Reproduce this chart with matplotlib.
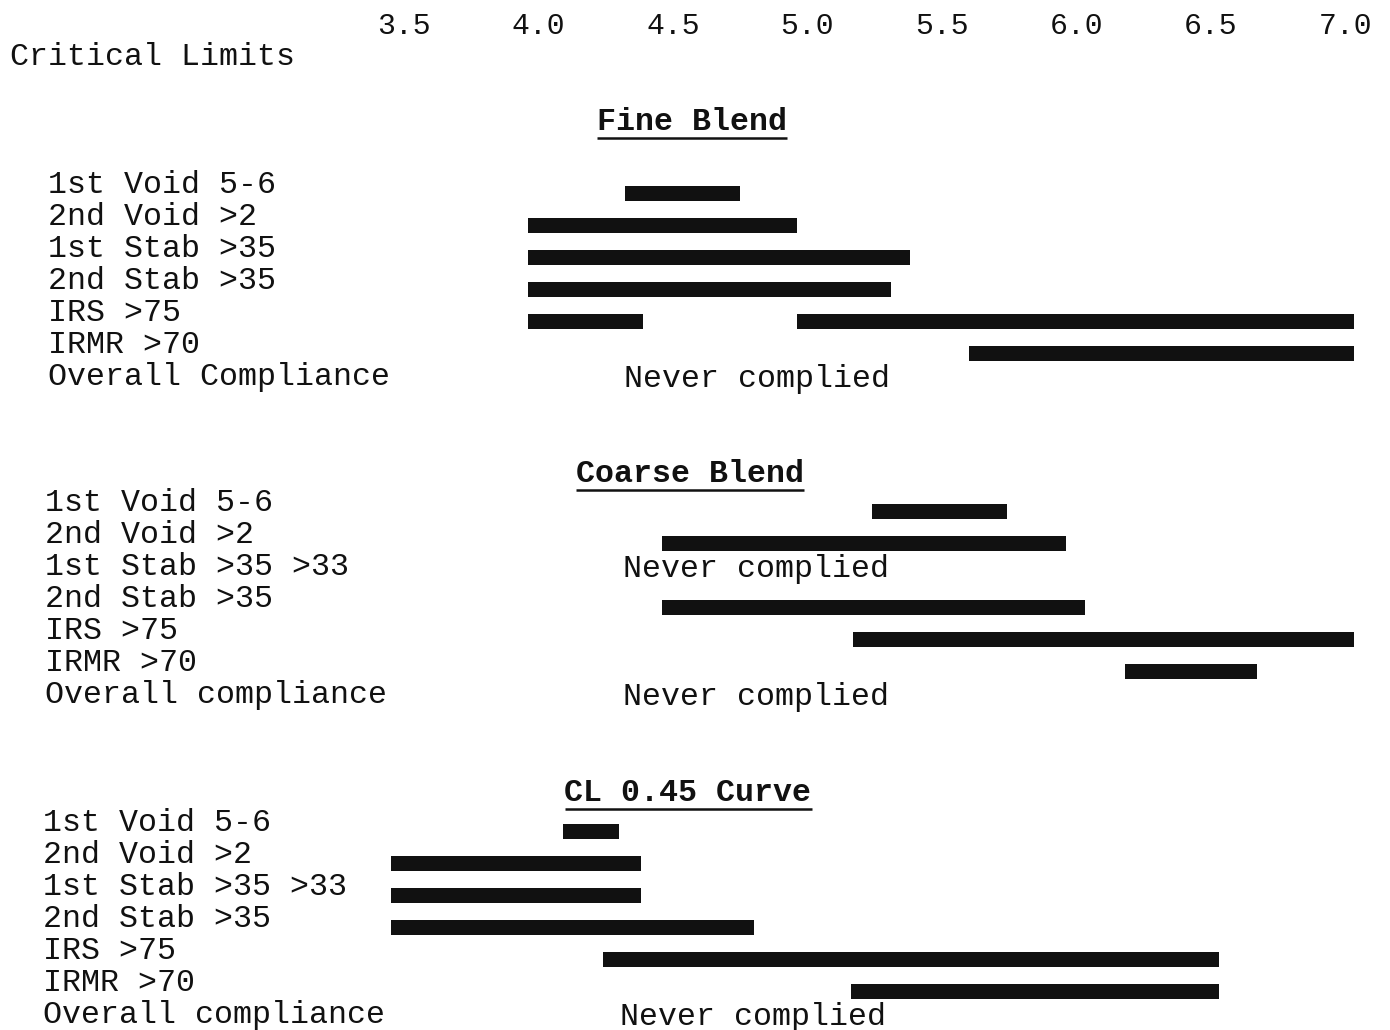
import matplotlib
matplotlib.use("Agg")
import matplotlib.pyplot as plt

# x scale (pH-like values) shown across the top
tick_values = [3.5, 4.0, 4.5, 5.0, 5.5, 6.0, 6.5, 7.0]
tick_labels = ["3.5", "4.0", "4.5", "5.0", "5.5", "6.0", "6.5", "7.0"]

# Fine Blend
fine_labels = ["1st Void 5-6", "2nd Void >2", "1st Stab >35", "2nd Stab >35",
               "IRS >75", "IRMR >70", "Overall Compliance"]
fine_row = [0, 1, 2, 3, 4, 4, 5]
fine_start = [4.32, 3.96, 3.96, 3.96, 3.96, 4.96, 5.60]
fine_end = [4.75, 4.96, 5.38, 5.31, 4.39, 7.03, 7.03]
fine_never = [6]

# Coarse Blend
coarse_labels = ["1st Void 5-6", "2nd Void >2", "1st Stab >35 >33", "2nd Stab >35",
                 "IRS >75", "IRMR >70", "Overall compliance"]
coarse_row = [0, 1, 3, 4, 5]
coarse_start = [5.24, 4.46, 4.46, 5.17, 6.18]
coarse_end = [5.74, 5.96, 6.03, 7.03, 6.67]
coarse_never = [2, 6]

# CL 0.45 Curve
cl_labels = ["1st Void 5-6", "2nd Void >2", "1st Stab >35 >33", "2nd Stab >35",
             "IRS >75", "IRMR >70", "Overall compliance"]
cl_row = [0, 1, 2, 3, 4, 5]
cl_start = [4.09, 3.45, 3.45, 3.45, 4.24, 5.16]
cl_end = [4.30, 4.38, 4.38, 4.80, 6.53, 6.53]
cl_never = [6]

# title, labels, rows, starts, ends, never rows, title y/x (px), first row y, label x, "never" x
groups = [
    ("Fine Blend", fine_labels, fine_row, fine_start, fine_end, fine_never, 120, 692, 183, 48, 624),
    ("Coarse Blend", coarse_labels, coarse_row, coarse_start, coarse_end, coarse_never, 472, 690, 501, 45, 623),
    ("CL 0.45 Curve", cl_labels, cl_row, cl_start, cl_end, cl_never, 791, 688, 821, 43, 620),
]

MONO = ["Liberation Mono", "DejaVu Sans Mono"]
FS = 22.8
INK = "#111111"
STEP = 32
W = 1390

fig = plt.figure(figsize=(13.9, 10.3), dpi=100)
ax = fig.add_axes([0, 0, 1, 1])
# 1 x-unit = 269 px, 3.5 sits at x = 404 px
ax.set_xlim(3.5 - 404 / 269, 3.5 + (W - 404) / 269)
ax.set_ylim(1030, 0)
ax.axis("off")
ytr = ax.get_yaxis_transform()

for v, lab in zip(tick_values, tick_labels):
    ax.text(v, 26, lab, ha="center", va="center", fontsize=21.5, family=MONO, color=INK)
ax.text(10 / W, 57, "Critical Limits", transform=ytr,
        ha="left", va="center", fontsize=FS, family=MONO, color=INK)

titles = []
for title, labels, rows, starts, ends, never, ty, tx, y0, lx, nx in groups:
    t = ax.text(tx / W, ty + 2, title, transform=ytr,
                ha="center", va="center", fontsize=FS, family=MONO,
                fontweight="bold", color=INK)
    titles.append(t)
    for i, lab in enumerate(labels):
        ax.text(lx / W, y0 + i * STEP + 2, lab, transform=ytr,
                ha="left", va="center", fontsize=FS, family=MONO, color=INK)
    ys = [y0 + r * STEP + 10 for r in rows]
    widths = [e - s for s, e in zip(starts, ends)]
    ax.barh(ys, widths, left=starts, height=15, color=INK)
    for r in never:
        ax.text(nx / W, y0 + r * STEP + 4, "Never complied", transform=ytr,
                ha="left", va="center", fontsize=FS, family=MONO, color=INK)

# underline the group titles
fig.canvas.draw()
inv = ax.transData.inverted()
for t in titles:
    bb = t.get_window_extent()
    (x0, y_bot), (x1, _) = inv.transform([[bb.x0, bb.y0], [bb.x1, bb.y1]])
    ax.plot([x0, x1], [y_bot + 1, y_bot + 1], color=INK, lw=1.8, solid_capstyle="butt")

fig.savefig("out.png", dpi=100)
